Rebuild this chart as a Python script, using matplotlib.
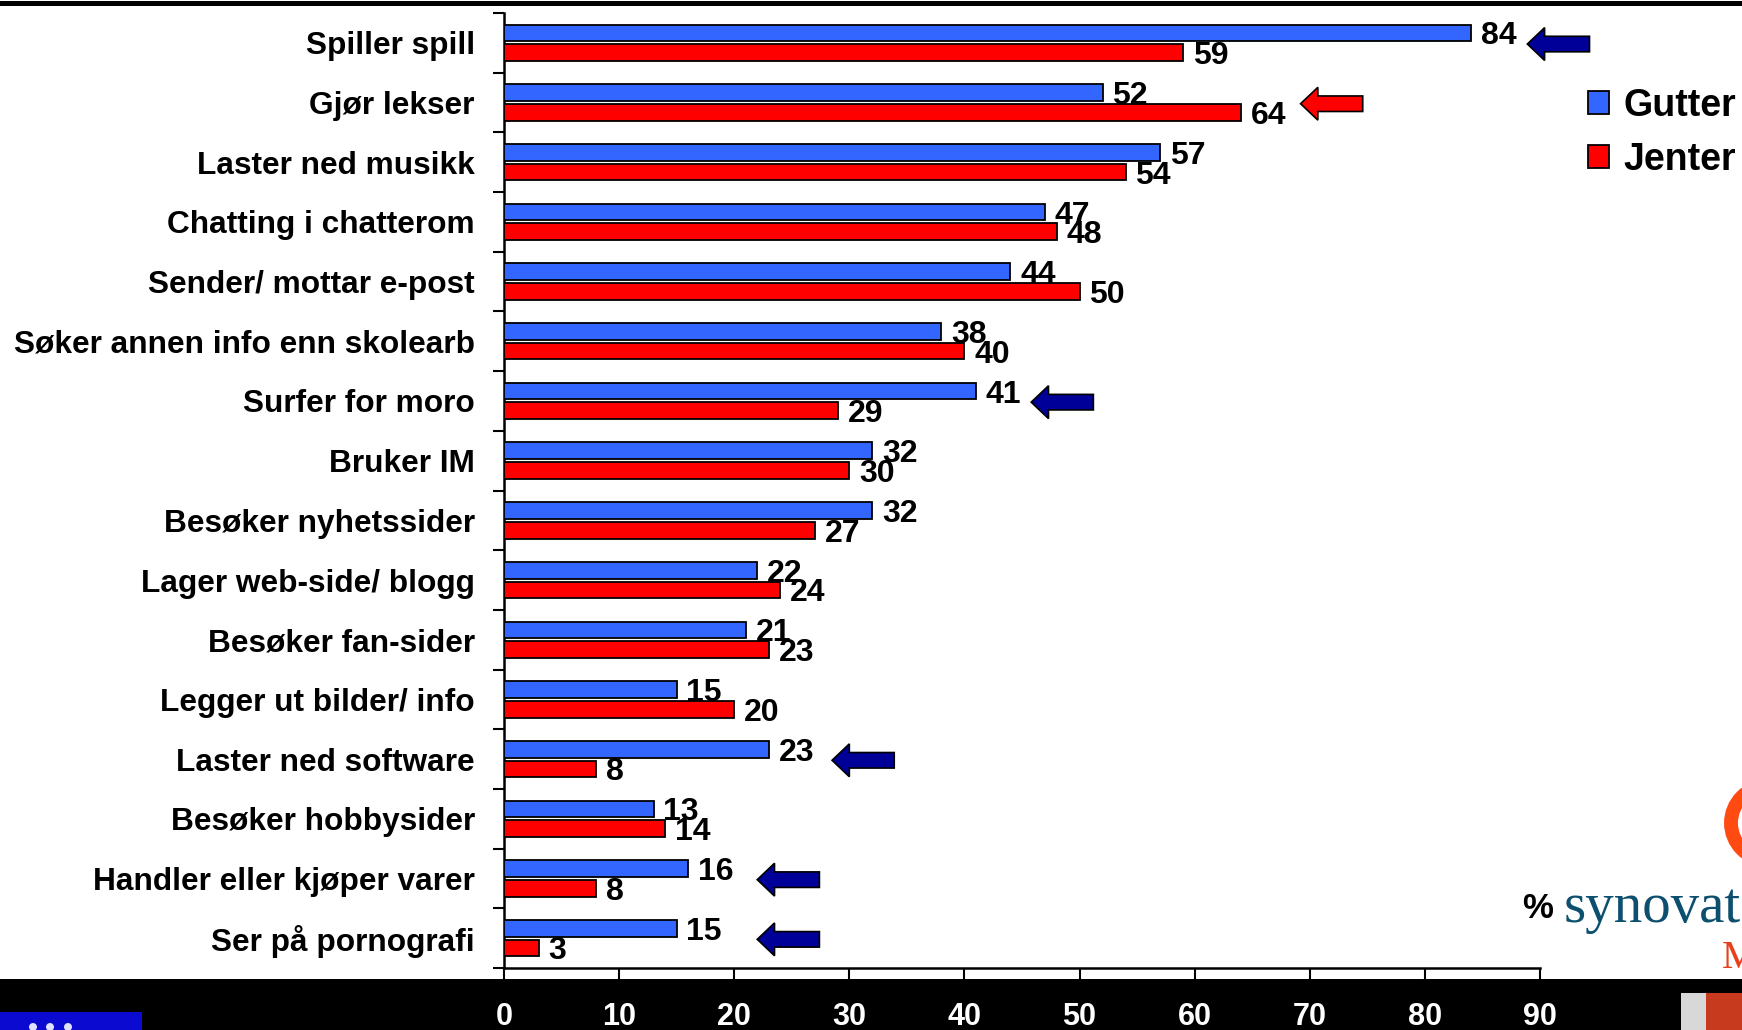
import matplotlib
matplotlib.use("Agg")
import matplotlib.pyplot as plt
from matplotlib.patches import Rectangle, FancyArrow, Ellipse
from matplotlib.ticker import FixedLocator

plt.rcParams['font.family'] = ['Liberation Sans', 'DejaVu Sans']

# data
categories = ['Spiller spill', 'Gjør lekser', 'Laster ned musikk', 'Chatting i chatterom',
              'Sender/ mottar e-post', 'Søker annen info enn skolearb', 'Surfer for moro',
              'Bruker IM', 'Besøker nyhetssider', 'Lager web-side/ blogg', 'Besøker fan-sider',
              'Legger ut bilder/ info', 'Laster ned software', 'Besøker hobbysider',
              'Handler eller kjøper varer', 'Ser på pornografi']
gutter = [84, 52, 57, 47, 44, 38, 41, 32, 32, 22, 21, 15, 23, 13, 16, 15]
jenter = [59, 64, 54, 48, 50, 40, 29, 30, 27, 24, 23, 20, 8, 14, 8, 3]
series_names = ['Gutter', 'Jenter']
xticks = [0, 10, 20, 30, 40, 50, 60, 70, 80, 90]

# arrows marking the larger difference
arrow_cats = ['Spiller spill', 'Gjør lekser', 'Surfer for moro', 'Laster ned software',
              'Handler eller kjøper varer', 'Ser på pornografi']
arrow_tips = [88.9, 69.2, 45.8, 28.5, 22.0, 22.0]
arrow_colors = ['#000099', '#ff0000', '#000099', '#000099', '#000099', '#000099']

W, H = 1742, 1030
fig = plt.figure(figsize=(W / 100, H / 100), dpi=100)
fig.patch.set_facecolor('white')

# axes placement in pixels
left, right, top, bottom = 504, 1540, 13, 968
ax = fig.add_axes([left / W, 1 - bottom / H, (right - left) / W, (bottom - top) / H])

y = list(range(len(categories)))
h = 0.28
off = 0.165
b1 = ax.barh([v - off for v in y], gutter, height=h, color='#3366ff', edgecolor='black',
             linewidth=1.3, label=series_names[0], zorder=3)
b2 = ax.barh([v + off for v in y], jenter, height=h, color='#ff0000', edgecolor='black',
             linewidth=1.3, label=series_names[1], zorder=3)

for i in y:
    ax.annotate(str(gutter[i]), (gutter[i], i - off), xytext=(7, -2.5), textcoords='offset points',
                ha='left', va='center', fontsize=23, fontweight='bold', annotation_clip=False)
    ax.annotate(str(jenter[i]), (jenter[i], i + off), xytext=(7, -2.5), textcoords='offset points',
                ha='left', va='center', fontsize=23, fontweight='bold', annotation_clip=False)

for cat, tip, col in zip(arrow_cats, arrow_tips, arrow_colors):
    yc = categories.index(cat) + 0.02
    arr = FancyArrow(tip + 5.4, yc, -5.4, 0, width=0.26, head_width=0.55, head_length=1.5,
                     length_includes_head=True, facecolor=col, edgecolor='black', linewidth=1.2,
                     clip_on=False, zorder=4)
    ax.add_patch(arr)

ax.set_xlim(0, 90)
ax.set_ylim(len(categories) - 0.5, -0.5)

ax.set_yticks(y)
ax.set_yticklabels(categories, fontsize=22.8, fontweight='bold')
ax.yaxis.set_minor_locator(FixedLocator([v - 0.5 for v in range(len(categories) + 1)]))
ax.tick_params(axis='y', which='major', length=0, pad=21)
ax.tick_params(axis='y', which='minor', length=8, width=1.5, direction='out')

ax.set_xticks(xticks)
ax.set_xticklabels([str(t) for t in xticks], fontsize=22, fontweight='bold', color='white')
ax.tick_params(axis='x', length=8, width=1.5, direction='out', pad=16.5)

for s in ['top', 'right']:
    ax.spines[s].set_visible(False)
for s in ['left', 'bottom']:
    ax.spines[s].set_linewidth(1.8)

# legend
ax.legend(handles=[b1, b2], loc='upper left', bbox_to_anchor=(1588 / W, 1 - 88 / H),
          bbox_transform=fig.transFigure, frameon=False,
          prop={'weight': 'bold', 'size': 27}, handlelength=0.55, handleheight=0.55,
          handletextpad=0.4, labelspacing=0.47, borderpad=0, borderaxespad=0)

# black band at the bottom and line at the top
fig.add_artist(Rectangle((0, 0), 1, 1 - 979 / H, transform=fig.transFigure,
                         facecolor='black', edgecolor='none', zorder=-1))
fig.add_artist(Rectangle((0, 1 - 6 / H), 1, 5 / H, transform=fig.transFigure,
                         facecolor='black', edgecolor='none', zorder=-1))

# logo pieces at the edges
fig.text(1522 / W, 1 - 909 / H, '%', ha='left', va='center', fontsize=25, fontweight='bold')
fig.text(1564 / W, 1 - 922 / H, 'synovate', ha='left', va='baseline', fontsize=41,
         family='Liberation Serif', color='#0d4f6e')
fig.text(1722 / W, 1 - 968 / H, 'MMI', ha='left', va='baseline', fontsize=29,
         family='Liberation Serif', color='#e8401c')
fig.add_artist(Ellipse((1768 / W, 1 - 823 / H), 74 / W, 74 / H, transform=fig.transFigure,
                       fill=False, edgecolor='#ff4a12', linewidth=10))
fig.add_artist(Rectangle((0, 0), 142 / W, 18 / H, transform=fig.transFigure,
                         facecolor='#0a0ad0', edgecolor='none'))
for px in [33, 50, 68]:
    fig.add_artist(Ellipse((px / W, 3 / H), 8 / W, 8 / H, transform=fig.transFigure,
                           facecolor='#e0e0ff', edgecolor='none'))
fig.add_artist(Rectangle((1681 / W, 0), 61 / W, 37 / H, transform=fig.transFigure,
                         facecolor='#d8d8d8', edgecolor='none'))
fig.add_artist(Rectangle((1706 / W, 0), 36 / W, 37 / H, transform=fig.transFigure,
                         facecolor='#c83a1e', edgecolor='none'))

fig.savefig('out.png', dpi=100, facecolor='white')
